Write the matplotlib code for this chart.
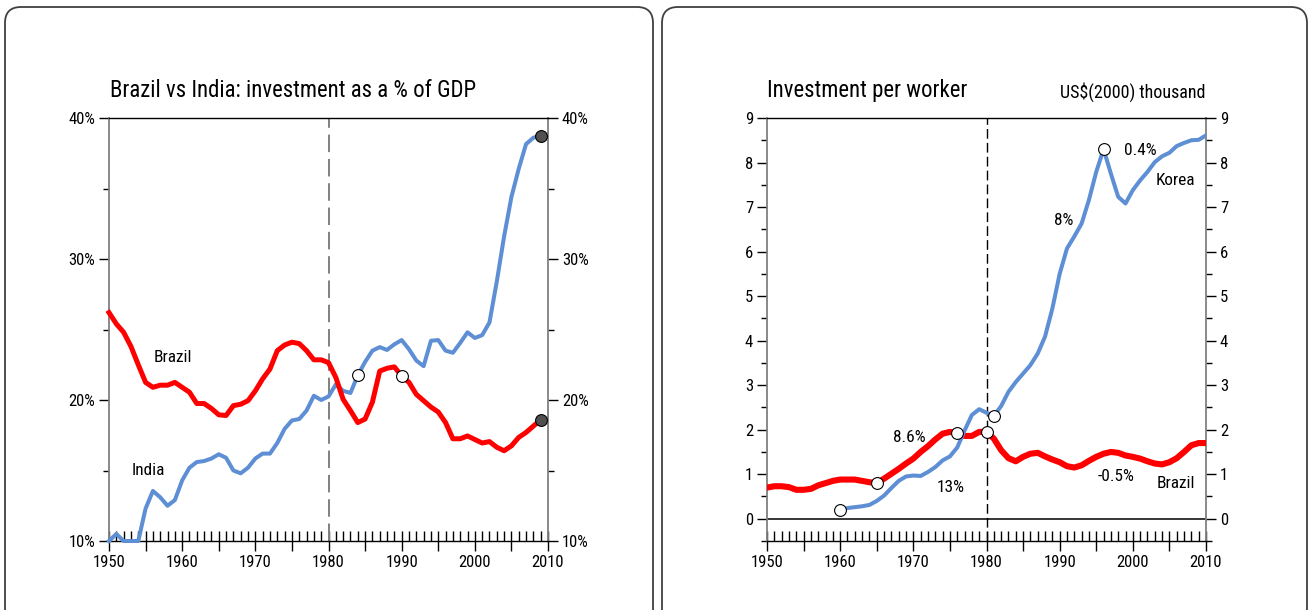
import matplotlib
matplotlib.use("Agg")
import matplotlib.pyplot as plt
import numpy as np
from matplotlib import font_manager
from matplotlib.patches import FancyBboxPatch
from matplotlib.ticker import MultipleLocator, FuncFormatter
from matplotlib.transforms import IdentityTransform


def has_font(name):
    try:
        font_manager.findfont(font_manager.FontProperties(family=name),
                              fallback_to_default=False)
        return True
    except ValueError:
        return False


# the original uses a narrow Helvetica; use a condensed face if one is installed
NARROW = [f for f in ("Liberation Sans Narrow", "Roboto Condensed",
                      "Open Sans Condensed", "Arial Narrow") if has_font(f)]
if NARROW:
    FONT = [NARROW[0], "Liberation Sans", "DejaVu Sans"]
    FS_TITLE, FS_UNIT, FS_LABEL, FS_TICK = 16.4, 13.0, 12.4, 12
else:
    FONT = ["Liberation Sans", "DejaVu Sans"]
    FS_TITLE, FS_UNIT, FS_LABEL, FS_TICK = 14.4, 11.4, 11, 10
plt.rcParams["font.family"] = FONT

RED = "#ff0000"
BLUE = "#5e8fd5"

# investment as % of GDP, 1950-2009
years_gdp = np.arange(1950, 2010)
brazil_gdp = [26.2, 25.4, 24.8, 23.8, 22.5, 21.25, 20.9, 21.05, 21.05, 21.25,
              20.9, 20.55, 19.75, 19.75, 19.4, 18.95, 18.9, 19.6, 19.7, 19.95,
              20.65, 21.5, 22.2, 23.5, 23.9, 24.1, 24.0, 23.5, 22.85, 22.85,
              22.65, 21.6, 20.05, 19.25, 18.4, 18.65, 19.85, 22.05, 22.25, 22.35,
              21.7, 21.25, 20.4, 19.95, 19.5, 19.15, 18.4, 17.25, 17.25, 17.45,
              17.2, 16.95, 17.05, 16.65, 16.4, 16.75, 17.35, 17.7, 18.15, 18.6]
india_gdp = [10.0, 10.5, 10.0, 10.0, 10.0, 12.3, 13.55, 13.1, 12.5, 12.9,
             14.3, 15.2, 15.6, 15.67, 15.85, 16.15, 15.9, 15.0, 14.8, 15.2,
             15.85, 16.2, 16.2, 16.95, 17.95, 18.55, 18.65, 19.25, 20.3, 20.0,
             20.25, 21.1, 20.65, 20.5, 21.75, 22.7, 23.5, 23.75, 23.55, 23.95,
             24.25, 23.6, 22.8, 22.4, 24.2, 24.25, 23.5, 23.35, 24.05, 24.8,
             24.4, 24.6, 25.5, 28.4, 31.6, 34.4, 36.4, 38.15, 38.6, 38.75]
open_brazil_gdp = [1990]
open_india_gdp = [1984]
end_year_gdp = 2009

# investment per worker, US$(2000) thousand
years_brazil_pw = np.arange(1950, 2011)
brazil_pw = [0.70, 0.73, 0.73, 0.71, 0.65, 0.65, 0.67, 0.75, 0.80, 0.85,
             0.88, 0.88, 0.88, 0.85, 0.82, 0.80, 0.90, 1.01, 1.12, 1.24,
             1.35, 1.50, 1.63, 1.78, 1.91, 1.95, 1.93, 1.86, 1.86, 1.95,
             1.95, 1.80, 1.54, 1.36, 1.29, 1.39, 1.46, 1.48, 1.40, 1.33,
             1.27, 1.18, 1.15, 1.20, 1.30, 1.39, 1.46, 1.50, 1.48, 1.42,
             1.39, 1.35, 1.29, 1.24, 1.22, 1.27, 1.36, 1.50, 1.65, 1.70, 1.70]
years_korea_pw = np.arange(1960, 2011)
korea_pw = [0.20, 0.24, 0.26, 0.28, 0.31, 0.40, 0.52, 0.69, 0.85, 0.95,
            0.97, 0.96, 1.05, 1.16, 1.31, 1.40, 1.60, 1.98, 2.33, 2.46,
            2.38, 2.31, 2.53, 2.85, 3.07, 3.26, 3.45, 3.71, 4.09, 4.72,
            5.5, 6.07, 6.34, 6.63, 7.16, 7.79, 8.3, 7.75, 7.23, 7.08,
            7.38, 7.6, 7.79, 8.01, 8.14, 8.22, 8.37, 8.44, 8.5, 8.51, 8.61]
open_brazil_pw = [1965, 1976, 1980]
open_korea_pw = [1960, 1981, 1996]

W, H = 1312, 610
fig = plt.figure(figsize=(W / 100, H / 100), dpi=100)


def px_axes(x0, x1, y0, y1):
    return fig.add_axes([x0 / W, 1 - y1 / H, (x1 - x0) / W, (y1 - y0) / H])


def value_at(years, values, yr):
    return values[list(years).index(yr)]


def style(ax, ylim, fmt):
    ax.set_xlim(1950, 2010)
    ax.set_ylim(*ylim)
    ax.xaxis.set_major_locator(MultipleLocator(5))
    ax.xaxis.set_minor_locator(MultipleLocator(1))
    ax.xaxis.set_major_formatter(FuncFormatter(
        lambda v, p: f"{int(round(v))}" if round(v) % 10 == 0 else ""))
    ax.tick_params(axis="x", which="major", direction="inout", length=14,
                   width=1, pad=3, labelsize=FS_TICK)
    ax.tick_params(axis="x", which="minor", direction="in", length=7, width=1)
    ax.yaxis.set_major_formatter(FuncFormatter(fmt))
    ax.tick_params(axis="y", which="both", left=True, right=True,
                   labelleft=True, labelright=True, direction="out", width=1)
    ax.tick_params(axis="y", which="major", length=7, pad=3, labelsize=FS_TICK)
    ax.tick_params(axis="y", which="minor", length=4)
    for side in ("left", "right"):
        ax.spines[side].set_color("#808080")
        ax.spines[side].set_linewidth(1.3)
    for side in ("top", "bottom"):
        ax.spines[side].set_color("black")
        ax.spines[side].set_linewidth(1.0)
    ax.patch.set_alpha(0)


# panel frames
for x0, x1 in [(5, 653), (662, 1307)]:
    fig.add_artist(FancyBboxPatch((x0, -20), x1 - x0, 623,
                                  boxstyle="round,pad=0,rounding_size=16",
                                  transform=IdentityTransform(),
                                  fc="none", ec="#404040", lw=1.3))

# left: investment as % of GDP
ax1 = px_axes(109, 548, 118, 541)
style(ax1, (10, 40), lambda v, p: f"{int(round(v))}%")
ax1.yaxis.set_major_locator(MultipleLocator(10))
ax1.yaxis.set_minor_locator(MultipleLocator(5))
ax1.axvline(1980, color="#808080", lw=1.4, dashes=(9, 3.5))
ax1.plot(years_gdp, india_gdp, color=BLUE, lw=2.9, solid_joinstyle="round", clip_on=False, zorder=3)
ax1.plot(years_gdp, brazil_gdp, color=RED, lw=3.6, solid_joinstyle="round", clip_on=False, zorder=3)
for yr in open_india_gdp:
    ax1.plot(yr, value_at(years_gdp, india_gdp, yr), "o", ms=8.5, mfc="white", mec="black", mew=0.8, zorder=5)
for yr in open_brazil_gdp:
    ax1.plot(yr, value_at(years_gdp, brazil_gdp, yr), "o", ms=8.5, mfc="white", mec="black", mew=0.8, zorder=5)
for series in (india_gdp, brazil_gdp):
    ax1.plot(end_year_gdp, value_at(years_gdp, series, end_year_gdp), "o", ms=8.5,
             mfc="#505050", mec="black", mew=0.8, zorder=5, clip_on=False)
ax1.text(1958.7, 23.0, "Brazil", fontsize=FS_LABEL, ha="center", va="center")
ax1.text(1955.4, 15.0, "India", fontsize=FS_LABEL, ha="center", va="center")
fig.text(110 / W, 1 - 97 / H, "Brazil vs India: investment as a % of GDP",
         fontsize=FS_TITLE, ha="left", va="baseline")

# right: investment per worker
ax2 = px_axes(767, 1206, 118, 541)
style(ax2, (-0.5, 9), lambda v, p: f"{int(round(v))}")
ax2.yaxis.set_major_locator(MultipleLocator(1))
ax2.yaxis.set_minor_locator(MultipleLocator(0.5))
ax2.axhline(0, color="black", lw=1.1)
ax2.axvline(1980, color="black", lw=1.0, dashes=(7, 3))
ax2.plot(years_brazil_pw, brazil_pw, color=RED, lw=4.4, solid_joinstyle="round", zorder=3)
ax2.plot(years_korea_pw, korea_pw, color=BLUE, lw=2.9, solid_joinstyle="round", zorder=3)
for yr in open_brazil_pw:
    ax2.plot(yr, value_at(years_brazil_pw, brazil_pw, yr), "o", ms=8.5, mfc="white", mec="black", mew=0.8, zorder=5)
for yr in open_korea_pw:
    ax2.plot(yr, value_at(years_korea_pw, korea_pw, yr), "o", ms=8.5, mfc="white", mec="black", mew=0.8, zorder=5)
labels_pw = [(1969.5, 1.83, "8.6%"), (1975.1, 0.70, "13%"), (1997.7, 0.94, "-0.5%"),
             (2005.85, 0.79, "Brazil"), (1990.55, 6.69, "8%"), (2001.0, 8.28, "0.4%"),
             (2005.85, 7.59, "Korea")]
for x, y, s in labels_pw:
    ax2.text(x, y, s, fontsize=FS_LABEL, ha="center", va="center")
fig.text(767 / W, 1 - 97 / H, "Investment per worker", fontsize=FS_TITLE, ha="left", va="baseline")
fig.text(1206 / W, 1 - 98 / H, "US$(2000) thousand", fontsize=FS_UNIT, ha="right", va="baseline")

fig.savefig("out.png", dpi=100)
